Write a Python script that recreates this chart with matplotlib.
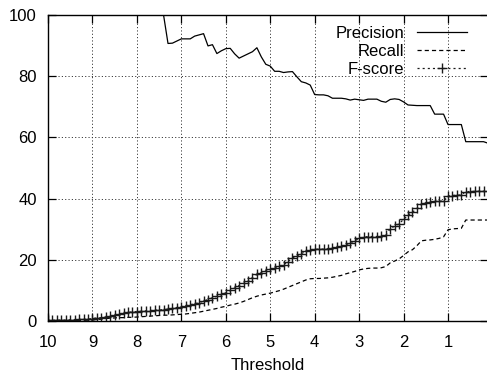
import matplotlib
matplotlib.use("Agg")
import matplotlib.pyplot as plt
import numpy as np

nan = np.nan

# Data (threshold goes from 10.0 down to 0.1 in steps of 0.1)
thresholds = np.arange(100, 0, -1) / 10.0

precision = [
    nan, nan, nan, nan, nan, nan, nan, nan, nan, nan,            # 10.0 - 9.1
    nan, nan, nan, nan, nan, nan, nan, nan, nan, nan,            # 9.0 - 8.1
    nan, nan, nan, nan, nan, nan, 100.0, 90.7, 90.8, 91.5,       # 8.0 - 7.1
    92.2, 92.2, 92.2, 93.1, 93.5, 93.9, 89.9, 90.3, 87.4, 88.3,  # 7.0 - 6.1
    89.0, 89.1, 87.3, 85.9, 86.6, 87.3, 88.0, 89.3, 86.3, 83.9,  # 6.0 - 5.1
    83.3, 81.6, 81.6, 81.2, 81.4, 81.5, 79.8, 78.2, 77.8, 77.1,  # 5.0 - 4.1
    74.0, 73.9, 73.9, 73.6, 72.8, 72.8, 72.8, 72.6, 72.2, 72.5,  # 4.0 - 3.1
    72.3, 72.1, 72.5, 72.5, 72.5, 71.8, 71.5, 72.4, 72.6, 72.4,  # 3.0 - 2.1
    71.6, 70.6, 70.5, 70.4, 70.4, 70.4, 70.4, 67.6, 67.6, 67.6,  # 2.0 - 1.1
    64.2, 64.2, 64.2, 64.2, 58.6, 58.6, 58.6, 58.6, 58.6, 58.1,  # 1.0 - 0.1
]

recall = [
    0.0, 0.0, 0.0, 0.1, 0.1, 0.1, 0.2, 0.2, 0.2, 0.3,
    0.3, 0.5, 0.6, 0.8, 0.9, 1.0, 1.1, 1.1, 1.2, 1.2,
    1.3, 1.4, 1.5, 1.6, 1.7, 1.8, 1.9, 1.9, 2.0, 2.1,
    2.2, 2.3, 2.5, 2.7, 2.9, 3.2, 3.5, 3.8, 4.1, 4.5,
    4.8, 5.2, 5.5, 5.9, 6.4, 7.0, 7.6, 8.1, 8.5, 8.8,
    9.1, 9.5, 9.9, 10.4, 11.0, 11.6, 12.2, 12.8, 13.4, 13.8,
    13.9, 13.9, 14.0, 14.1, 14.3, 14.6, 14.9, 15.4, 15.8, 16.2,
    16.7, 17.0, 17.2, 17.3, 17.3, 17.4, 17.8, 19.0, 19.6, 20.3,
    21.4, 22.6, 23.3, 24.6, 26.2, 26.4, 26.5, 26.7, 27.0, 27.5,
    29.8, 30.1, 30.2, 30.3, 33.0, 33.0, 33.0, 33.0, 33.0, 33.0,
]

fscore = [
    0.2, 0.2, 0.3, 0.3, 0.3, 0.4, 0.4, 0.5, 0.5, 0.6,
    0.8, 1.0, 1.1, 1.3, 1.5, 1.8, 2.3, 2.6, 2.8, 3.0,
    3.1, 3.2, 3.3, 3.4, 3.5, 3.6, 3.7, 3.9, 4.1, 4.4,
    4.7, 5.0, 5.3, 5.6, 6.0, 6.5, 7.0, 7.6, 8.1, 8.7,
    9.2, 10.0, 10.8, 11.6, 12.3, 13.0, 14.2, 15.2, 15.8, 16.4,
    16.9, 17.4, 17.9, 18.4, 19.4, 20.6, 21.3, 22.0, 22.8, 23.3,
    23.4, 23.5, 23.5, 23.6, 23.8, 24.1, 24.4, 24.9, 25.5, 26.2,
    27.0, 27.4, 27.6, 27.6, 27.6, 27.7, 28.0, 30.2, 31.0, 31.8,
    33.2, 34.6, 35.5, 36.8, 38.3, 38.6, 38.9, 39.1, 39.1, 39.2,
    40.8, 41.0, 41.1, 41.2, 42.3, 42.3, 42.4, 42.4, 42.4, 42.4,
]

x_ticks = [10, 9, 8, 7, 6, 5, 4, 3, 2, 1]
y_ticks = [0, 20, 40, 60, 80, 100]

plt.rcParams['font.family'] = ['Liberation Sans', 'DejaVu Sans']
plt.rcParams['font.size'] = 12
plt.rcParams['lines.scale_dashes'] = False

fig = plt.figure(figsize=(4.87, 3.73), dpi=100)
ax = fig.add_axes([48 / 487, 52 / 373, 440 / 487, 306 / 373])

ax.plot(thresholds, precision, color='black', lw=0.9, label='Precision')
ax.plot(thresholds, recall, color='black', lw=0.9, linestyle=(0, (3.0, 2.2)),
        label='Recall')
ax.plot(thresholds, fscore, color='0.1', lw=0.9, linestyle=(0, (1.5, 2.2)),
        marker='+', markersize=6.5, markeredgewidth=1.0, label='F-score')

ax.set_xlim(10, 0.1)
ax.set_ylim(0, 100)
ax.set_xticks(x_ticks)
ax.set_yticks(y_ticks)
ax.tick_params(direction='in', length=5.8, width=0.9, top=True, right=True,
               labelsize=12, pad=8)
ax.tick_params(axis='x', pad=10)
ax.grid(True, color='0.2', lw=0.7, linestyle=(0, (0.8, 1.6)))
for s in ax.spines.values():
    s.set_linewidth(1.0)

ax.set_xlabel('Threshold', fontsize=12, labelpad=6)

ax.legend(loc='upper right', bbox_to_anchor=(467 / 487, 347 / 373),
          bbox_transform=fig.transFigure, frameon=False, markerfirst=False,
          fontsize=12, handlelength=3.0, handletextpad=0.75, labelspacing=0.18,
          borderpad=0, borderaxespad=0, numpoints=1)

fig.savefig('out.png', dpi=100)
